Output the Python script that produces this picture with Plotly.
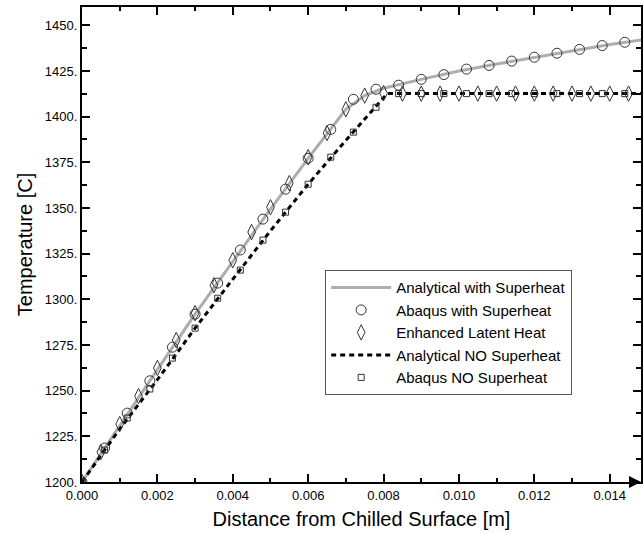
import plotly.graph_objects as go

# Analytical with Superheat (gray solid line)
ana_sh_x = [0.0, 0.001, 0.002, 0.003, 0.004, 0.005, 0.006, 0.007, 0.0075, 0.008,
            0.009, 0.010, 0.011, 0.012, 0.013, 0.014, 0.015]
ana_sh_y = [1200.0, 1231.0, 1261.5, 1291.9, 1321.0, 1349.4, 1377.2, 1404.0, 1411.5, 1415.5,
            1420.4, 1425.0, 1428.8, 1432.5, 1436.0, 1439.5, 1442.5]

# Abaqus with Superheat (open circles)
abq_sh_x = [0.0, 0.0006, 0.0012, 0.0018, 0.0024, 0.0030, 0.0036, 0.0042, 0.0048, 0.0054,
            0.0060, 0.0066, 0.0072, 0.0078, 0.0084, 0.0090, 0.0096, 0.0102, 0.0108,
            0.0114, 0.0120, 0.0126, 0.0132, 0.0138, 0.0144]
abq_sh_y = [1200.0, 1218.6, 1237.7, 1255.4, 1273.8, 1291.9, 1308.9, 1327.0, 1343.9, 1360.3,
            1377.2, 1393.0, 1409.5, 1415.0, 1417.2, 1420.4, 1423.0, 1426.0, 1428.0,
            1430.4, 1432.5, 1434.7, 1436.8, 1438.9, 1440.7]

# Enhanced Latent Heat (open diamonds)
elh_x = [0.0, 0.0005, 0.0010, 0.0015, 0.0020, 0.0025, 0.0030, 0.0035, 0.0040, 0.0045,
         0.0050, 0.0055, 0.0060, 0.0065, 0.0070, 0.0075, 0.0080, 0.0085, 0.0090, 0.0095,
         0.0100, 0.0105, 0.0110, 0.0115, 0.0120, 0.0125, 0.0130, 0.0135, 0.0140, 0.0145]
elh_y = [1200.0, 1216.4, 1231.7, 1247.0, 1262.4, 1277.7, 1292.4, 1307.7, 1321.4, 1336.8,
         1350.4, 1363.6, 1377.8, 1391.0, 1404.0, 1411.5, 1412.8, 1412.6, 1412.6, 1412.6,
         1412.6, 1412.6, 1412.6, 1412.6, 1412.6, 1412.6, 1412.6, 1412.6, 1412.6, 1412.6]

# Analytical NO Superheat (black dashed line)
ana_no_x = [0.0, 0.001, 0.002, 0.003, 0.004, 0.005, 0.006, 0.007, 0.0081, 0.015]
ana_no_y = [1200.0, 1229.0, 1256.0, 1284.2, 1311.0, 1337.5, 1363.0, 1387.0, 1412.6, 1412.6]

# Abaqus NO Superheat (open squares)
abq_no_x = [0.0, 0.0006, 0.0012, 0.0018, 0.0024, 0.0030, 0.0036, 0.0042, 0.0048, 0.0054,
            0.0060, 0.0066, 0.0072, 0.0078, 0.0084, 0.0090, 0.0096, 0.0102, 0.0108,
            0.0114, 0.0120, 0.0126, 0.0132, 0.0138, 0.0144]
abq_no_y = [1200.0, 1217.5, 1235.0, 1250.9, 1267.8, 1284.2, 1300.6, 1316.0, 1332.4, 1347.7,
            1363.0, 1377.8, 1391.5, 1405.1, 1412.6, 1412.6, 1412.6, 1412.6, 1412.6,
            1412.6, 1412.6, 1412.6, 1412.6, 1412.6, 1412.6]

x_tick_vals = [0.000, 0.002, 0.004, 0.006, 0.008, 0.010, 0.012, 0.014]
x_tick_text = ["0.000", "0.002", "0.004", "0.006", "0.008", "0.010", "0.012", "0.014"]
y_tick_vals = [1200, 1225, 1250, 1275, 1300, 1325, 1350, 1375, 1400, 1425, 1450]
y_tick_text = ["1200.", "1225.", "1250.", "1275.", "1300.", "1325.", "1350.",
               "1375.", "1400.", "1425.", "1450."]

FONT = "Arial, Liberation Sans, sans-serif"

fig = go.Figure()
fig.add_trace(go.Scatter(x=ana_sh_x, y=ana_sh_y, mode="lines",
                         name="Analytical with Superheat",
                         line=dict(color="#adadad", width=3)))
fig.add_trace(go.Scatter(x=ana_no_x, y=ana_no_y, mode="lines",
                         name="Analytical NO Superheat",
                         line=dict(color="black", width=3, dash="5px,4px")))
fig.add_trace(go.Scatter(x=abq_sh_x, y=abq_sh_y, mode="markers",
                         name="Abaqus with Superheat",
                         marker=dict(symbol="circle-open", size=10,
                                     color="#333333", line=dict(width=1))))
fig.add_trace(go.Scatter(x=elh_x, y=elh_y, mode="markers",
                         name="Enhanced Latent Heat",
                         marker=dict(symbol="diamond-tall-open", size=11,
                                     color="#333333", line=dict(width=1))))
fig.add_trace(go.Scatter(x=abq_no_x, y=abq_no_y, mode="markers",
                         name="Abaqus NO Superheat",
                         marker=dict(symbol="square-open", size=6,
                                     color="#333333", line=dict(width=1))))

order = {"Analytical with Superheat": 1, "Abaqus with Superheat": 2,
         "Enhanced Latent Heat": 3, "Analytical NO Superheat": 4,
         "Abaqus NO Superheat": 5}
for tr in fig.data:
    tr.legendrank = order[tr.name]

axis_common = dict(
    showline=True, linecolor="black", linewidth=2, mirror="allticks",
    ticks="inside", ticklen=8, tickwidth=1.5, tickcolor="black",
    showgrid=False, zeroline=False, automargin=False,
    tickfont=dict(family=FONT, size=13, color="black"),
)

fig.update_xaxes(
    range=[0, 0.01483], tickvals=x_tick_vals, ticktext=x_tick_text,
    minor=dict(ticks="inside", ticklen=4, dtick=0.001, tick0=0,
               tickcolor="black", tickwidth=1.5),
    title=dict(text="Distance from Chilled Surface [m]",
               font=dict(family=FONT, size=20, color="black"), standoff=10),
    **axis_common)
fig.update_yaxes(
    range=[1200, 1460], tickvals=y_tick_vals, ticktext=y_tick_text,
    minor=dict(ticks="inside", ticklen=5, dtick=12.5, tick0=1200,
               tickcolor="black", tickwidth=1.5),
    title=dict(text="Temperature [C]",
               font=dict(family=FONT, size=20, color="black"), standoff=7),
    **axis_common)

fig.add_annotation(xref="paper", yref="paper", x=1.0, y=0.0, ax=-8, ay=0,
                   axref="pixel", ayref="pixel", text="", showarrow=True,
                   arrowhead=2, arrowsize=1.2, arrowwidth=2, arrowcolor="black")

fig.update_layout(
    width=643, height=534,
    margin=dict(l=82, r=2, t=7, b=52, autoexpand=False),
    paper_bgcolor="white", plot_bgcolor="white",
    showlegend=True,
    legend=dict(x=0.435, y=0.446, xanchor="left", yanchor="top",
                bgcolor="white", bordercolor="#555555", borderwidth=1,
                font=dict(family=FONT, size=15, color="black"),
                itemwidth=60, tracegroupgap=0),
)

fig.write_html("out.html",
               config={"displayModeBar": False},
               post_script="document.body.style.margin='0';"
                           "document.body.style.overflow='hidden';")
